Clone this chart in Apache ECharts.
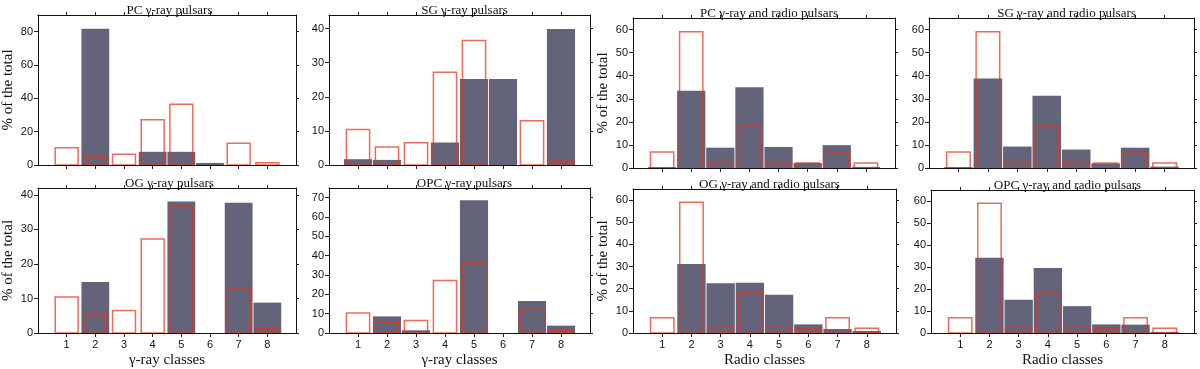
<!DOCTYPE html>
<html>
<head>
<meta charset="utf-8">
<script src="https://cdn.jsdelivr.net/npm/echarts@6/dist/echarts.min.js"></script>
<style>
  html, body { margin: 0; padding: 0; background: #fff; }
  #chart { width: 1200px; height: 369px; }
</style>
</head>
<body>
<div id="chart"></div>
<script>
// classes on the x axis
const classes = [1, 2, 3, 4, 5, 6, 7, 8];

// observed distributions (orange outline bars)
const gammaObserved = [10.4, 5.3, 6.5, 27.2, 36.5, 0, 13.0, 1.3];
const radioObserved = [6.9, 59.0, 2.6, 18.2, 2.6, 2.2, 6.9, 2.2];

// model distributions (filled bars)
const pcGamma = [0, 81.8, 0, 7.9, 7.9, 1.2, 0, 0];
const sgGamma = [1.7, 1.5, 0, 6.6, 25.2, 25.2, 0, 39.9];
const ogGamma = [0, 14.8, 0, 0, 38.1, 0, 37.7, 8.8];
const opcGamma = [0, 8.6, 1.4, 0, 68.6, 0, 16.6, 3.8];
const pcRadio = [0.4, 33.5, 8.8, 35.0, 9.1, 2.2, 9.9, 0.5];
const sgRadio = [0.4, 38.8, 9.3, 31.3, 8.0, 2.0, 8.8, 0.6];
const ogRadio = [0, 31.2, 22.5, 22.7, 17.3, 3.9, 1.8, 0.9];
const opcRadio = [0, 34.2, 15.1, 29.5, 12.2, 3.9, 3.8, 0.5];

// y tick labels
const ticks80 = [0, 20, 40, 60, 80];
const ticks40 = [0, 10, 20, 30, 40];
const ticks70 = [0, 10, 20, 30, 40, 50, 60, 70];
const ticks60 = [0, 10, 20, 30, 40, 50, 60];

const GRAY = '#636379';
const ORANGE = 'rgba(230, 50, 25, 0.72)';
const SERIF = '"Liberation Serif", "DejaVu Serif", serif';
const SANS = '"Liberation Sans", Arial, sans-serif';

const panels = [
  { title: 'PC γ-ray pulsars', model: pcGamma, obs: gammaObserved, yMax: 90, yTicks: ticks80, box: [33, 15, 263, 150], yName: true, xName: null },
  { title: 'SG γ-ray pulsars', model: sgGamma, obs: gammaObserved, yMax: 44, yTicks: ticks40, box: [329, 15, 261, 150], yName: false, xName: null },
  { title: 'PC γ-ray and radio pulsars', model: pcRadio, obs: radioObserved, yMax: 65, yTicks: ticks60, box: [633, 18, 262, 150], yName: true, xName: null },
  { title: 'SG γ-ray and radio pulsars', model: sgRadio, obs: radioObserved, yMax: 65, yTicks: ticks60, box: [929, 18, 265, 150], yName: false, xName: null },
  { title: 'OG γ-ray pulsars', model: ogGamma, obs: gammaObserved, yMax: 42, yTicks: ticks40, box: [33, 188, 263, 149], yName: true, xName: 'γ-ray classes' },
  { title: 'OPC γ-ray pulsars', model: opcGamma, obs: gammaObserved, yMax: 75, yTicks: ticks70, box: [329, 188, 261, 149], yName: false, xName: 'γ-ray classes' },
  { title: 'OG γ-ray and radio pulsars', model: ogRadio, obs: radioObserved, yMax: 65, yTicks: ticks60, box: [633, 189, 263, 151], yName: true, xName: 'Radio classes' },
  { title: 'OPC γ-ray and radio pulsars', model: opcRadio, obs: radioObserved, yMax: 65, yTicks: ticks60, box: [931, 190, 263, 150], yName: false, xName: 'Radio classes' }
];

function barRenderer(half, filled) {
  return function (params, api) {
    const x = api.value(0), v = api.value(1);
    if (!v) return null;
    const p0 = api.coord([x - half, v]);
    const p1 = api.coord([x + half, 0]);
    return {
      type: 'rect',
      shape: { x: p0[0], y: p0[1], width: p1[0] - p0[0], height: p1[1] - p0[1] },
      style: filled ? { fill: GRAY } : { fill: 'none', stroke: ORANGE, lineWidth: 1.5 }
    };
  };
}

const grid = [], xAxis = [], yAxis = [], series = [], title = [];
const axisLine = { show: true, onZero: false, lineStyle: { color: '#111', width: 1 } };
const tick = { show: true, inside: false, length: 4, lineStyle: { color: '#222' } };

panels.forEach((p, i) => {
  const [left, top, width, height] = p.box;
  grid.push({ left: left, top: top, width: width, height: height, containLabel: false });
  title.push({
    text: p.title, left: left + width / 2, top: top - 16, textAlign: 'center',
    textStyle: { fontFamily: SERIF, fontSize: 13, fontWeight: 'normal', color: '#111' }
  });
  const xBase = { type: 'value', gridIndex: i, min: 0, max: 9, interval: 1, splitLine: { show: false }, axisLine: axisLine };
  xAxis.push(Object.assign({}, xBase, {
    position: 'bottom',
    axisTick: Object.assign({}, tick, { customValues: classes }),
    axisLabel: p.xName
      ? { show: true, customValues: classes, margin: 6, fontFamily: SANS, fontSize: 11, color: '#111' }
      : { show: false },
    name: p.xName || '', nameLocation: 'middle', nameGap: 20,
    nameTextStyle: { fontFamily: SERIF, fontSize: 15, color: '#111' }
  }));
  xAxis.push(Object.assign({}, xBase, {
    position: 'top',
    axisTick: Object.assign({}, tick, { length: 3, customValues: classes }),
    axisLabel: { show: false }
  }));
  const yBase = { type: 'value', gridIndex: i, min: 0, max: p.yMax, splitLine: { show: false }, axisLine: axisLine };
  yAxis.push(Object.assign({}, yBase, {
    position: 'left',
    axisTick: Object.assign({}, tick, { customValues: p.yTicks }),
    axisLabel: { show: true, customValues: p.yTicks, margin: 5, fontFamily: SANS, fontSize: 11, color: '#111' },
    name: p.yName ? '% of the total' : '', nameLocation: 'middle', nameGap: 22, nameRotate: 90,
    nameTextStyle: { fontFamily: SERIF, fontSize: 15, color: '#111' }
  }));
  yAxis.push(Object.assign({}, yBase, {
    position: 'right',
    axisTick: Object.assign({}, tick, { length: 3, customValues: p.yTicks }),
    axisLabel: { show: false }
  }));
  series.push({
    type: 'custom', xAxisIndex: 2 * i, yAxisIndex: 2 * i, clip: true,
    renderItem: barRenderer(0.485, true),
    data: classes.map((c, k) => [c, p.model[k]]),
    silent: true, z: 2
  });
  series.push({
    type: 'custom', xAxisIndex: 2 * i, yAxisIndex: 2 * i, clip: true,
    renderItem: barRenderer(0.4, false),
    data: classes.map((c, k) => [c, p.obs[k]]),
    silent: true, z: 3
  });
});

const chart = echarts.init(document.getElementById('chart'), null, { renderer: 'canvas' });
chart.setOption({
  animation: false,
  backgroundColor: '#fff',
  title: title,
  grid: grid,
  xAxis: xAxis,
  yAxis: yAxis,
  series: series
});
</script>
</body>
</html>
